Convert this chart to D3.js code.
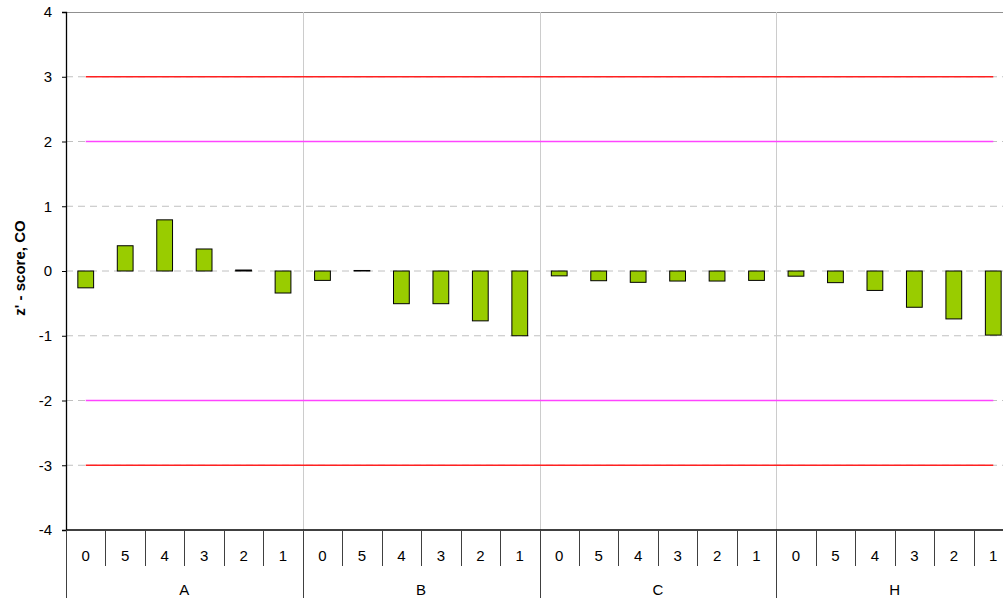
<!DOCTYPE html>
<html><head><meta charset="utf-8">
<script src="https://cdn.jsdelivr.net/npm/d3@7"></script>
<style>body{margin:0;background:#fff}svg{display:block;font-family:"Liberation Sans",Arial,sans-serif}</style>
</head><body>
<svg id="c" width="1003" height="598"></svg>
<script>
const groups = ["A","B","C","H"];
const cats = ["0","5","4","3","2","1"];
const valuesA = [-0.26, 0.39, 0.79, 0.34, 0.015, -0.34];
const valuesB = [-0.145, 0.008, -0.505, -0.505, -0.77, -1.0];
const valuesC = [-0.075, -0.15, -0.175, -0.155, -0.155, -0.145];
const valuesH = [-0.08, -0.18, -0.30, -0.56, -0.74, -0.99];
const limitRed = [3, -3];
const limitMagenta = [2, -2];
const yTicks = [-4,-3,-2,-1,0,1,2,3,4];
const gridVals = [-3,-2,-1,0,1,2,3];

const seriesByGroup = {A: valuesA, B: valuesB, C: valuesC, H: valuesH};
const data = [];
groups.forEach(g => cats.forEach((c, i) => data.push({key: g + "|" + c, g, c, v: seriesByGroup[g][i]})));

const L = 66, R = 1013, T = 12, B = 530;
const FS = 15;
const svg = d3.select("#c");
const x = d3.scaleBand().domain(data.map(d => d.key)).range([L, R]).paddingInner(0.6).paddingOuter(0.3);
const xs = d3.scaleBand().domain(data.map(d => d.key)).range([L, R]).padding(0);
const xg = d3.scaleBand().domain(groups).range([L, R]).padding(0);
const y = d3.scaleLinear().domain([-4, 4]).range([B, T]);

// horizontal dashed gridlines
svg.append("g").selectAll("line").data(gridVals).join("line")
  .attr("x1", L).attr("x2", R).attr("y1", d => y(d)).attr("y2", d => y(d))
  .attr("stroke", "#c0c0c0").attr("stroke-width", 1).attr("stroke-dasharray", "7,5");
// top border
svg.append("line").attr("x1", L).attr("x2", R).attr("y1", y(4)+0.5).attr("y2", y(4)+0.5)
  .attr("stroke", "#909090").attr("stroke-width", 1);
// vertical group separators in plot
svg.append("g").selectAll("line").data(groups.slice(1)).join("line")
  .attr("x1", d => Math.round(xg(d))+0.5).attr("x2", d => Math.round(xg(d))+0.5)
  .attr("y1", T).attr("y2", B).attr("stroke", "#cccccc").attr("stroke-width", 1);

// limit lines (from first category centre to last)
const x0 = xs(data[0].key) + xs.bandwidth()/2;
const x1 = xs(data[data.length-1].key) + xs.bandwidth()/2;
svg.append("g").selectAll("line").data(limitRed).join("line")
  .attr("x1", x0).attr("x2", x1).attr("y1", d => y(d)).attr("y2", d => y(d))
  .attr("stroke", "#ff2020").attr("stroke-width", 1.5);
svg.append("g").selectAll("line").data(limitMagenta).join("line")
  .attr("x1", x0).attr("x2", x1).attr("y1", d => y(d)).attr("y2", d => y(d))
  .attr("stroke", "#ff44ff").attr("stroke-width", 1.5);

// bars
svg.append("g").selectAll("rect").data(data).join("rect")
  .attr("x", d => x(d.key)).attr("width", x.bandwidth())
  .attr("y", d => y(Math.max(0, d.v))).attr("height", d => Math.abs(y(d.v) - y(0)))
  .attr("fill", "#99cc00").attr("stroke", "#000").attr("stroke-width", 1);

// y axis
const ya = svg.append("g").attr("transform", `translate(${L},0)`)
  .call(d3.axisLeft(y).tickValues(yTicks).tickSize(4).tickPadding(10).tickFormat(d => String(d)));
ya.select(".domain").attr("stroke", "#000").attr("stroke-width", 1.3);
ya.selectAll(".tick line").attr("stroke", "#000");
ya.selectAll("text").attr("font-size", FS).attr("fill", "#000").attr("font-family", "Liberation Sans, Arial, sans-serif");

// y title
svg.append("text").attr("transform", `translate(25,268) rotate(-90)`)
  .attr("text-anchor", "middle").attr("font-size", 15).attr("font-weight", "bold")
  .text("z' - score, CO");

// x axis line
svg.append("line").attr("x1", L).attr("x2", R).attr("y1", B).attr("y2", B)
  .attr("stroke", "#000").attr("stroke-width", 1.3);
// category ticks
svg.append("g").selectAll("line").data(data.filter(d => d.c !== cats[0])).join("line")
  .attr("x1", d => Math.round(xs(d.key))+0.5).attr("x2", d => Math.round(xs(d.key))+0.5)
  .attr("y1", B).attr("y2", 566).attr("stroke", "#404040");
// group ticks
svg.append("g").selectAll("line").data(groups).join("line")
  .attr("x1", d => Math.round(xg(d))+0.5).attr("x2", d => Math.round(xg(d))+0.5)
  .attr("y1", B).attr("y2", 598).attr("stroke", "#404040");
// category labels
svg.append("g").selectAll("text").data(data).join("text")
  .attr("x", d => xs(d.key) + xs.bandwidth()/2).attr("y", 561)
  .attr("text-anchor", "middle").attr("font-size", FS).text(d => d.c);
// group labels
svg.append("g").selectAll("text").data(groups).join("text")
  .attr("x", d => xg(d) + xg.bandwidth()/2).attr("y", 595)
  .attr("text-anchor", "middle").attr("font-size", FS).text(d => d);
</script>
</body></html>
